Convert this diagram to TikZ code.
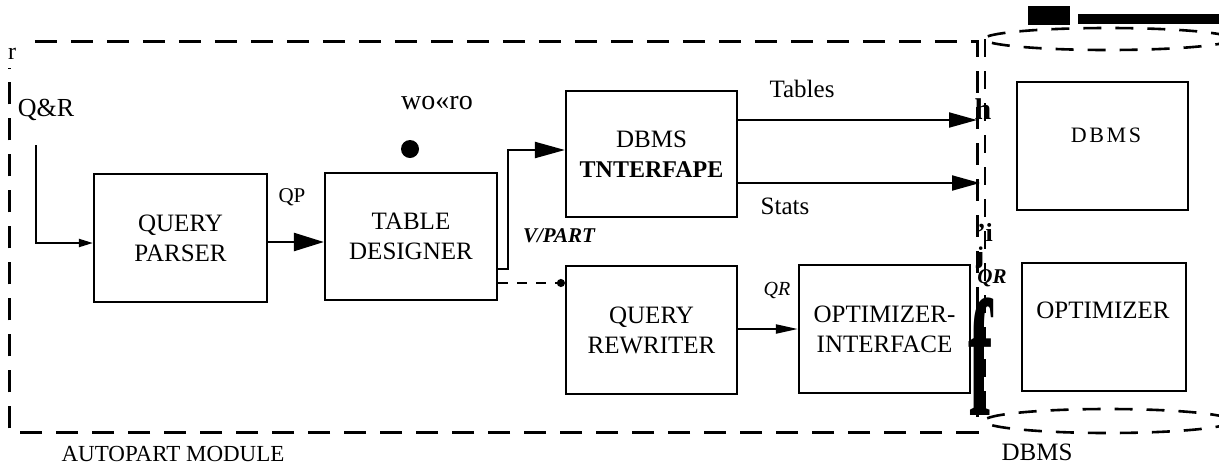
\documentclass[tikz,border=0pt]{standalone}
\usepackage{fontspec}
\setmainfont{Liberation Serif}
\newfontfamily\spacedserif[LetterSpace=12]{Liberation Serif}
\usetikzlibrary{arrows.meta}

\begin{document}
\begin{tikzpicture}[x=1pt,y=-1pt,
  box/.style={draw,line width=2.2pt,minimum width=171pt,minimum height=128pt,
              inner sep=0pt,align=center,font=\fontsize{25}{30}\selectfont},
  lbl/.style={inner sep=0pt,font=\fontsize{24}{28}\selectfont},
  small/.style={inner sep=0pt,font=\fontsize{21}{24}\selectfont},
  modulebox/.style={line width=3pt,dash pattern=on 22pt off 14pt},
  dbmsline/.style={line width=2.6pt,dash pattern=on 18pt off 14pt},
  flow/.style={line width=2pt,-{Triangle[length=28pt,width=15pt]}},
  bigflow/.style={line width=2.4pt,-{Triangle[length=30pt,width=18pt]}},
  smallflow/.style={line width=2pt,-{Triangle[length=22pt,width=9pt]}},
  thinflow/.style={line width=2pt,-{Triangle[length=14pt,width=8pt]}},
  partline/.style={line width=1.8pt,dash pattern=on 10pt off 9pt,
                   -{Circle[length=8pt]}},
]
\useasboundingbox (0,0) rectangle (1219,467);

% AUTOPART module frame (the top-left corner is left open)
\node[minimum width=967pt,minimum height=390pt,inner sep=0pt]
  (autopart) at (493.5,237) {};
\draw[modulebox] ([xshift=25pt]autopart.north west) -- (autopart.north east)
  -- (autopart.south east) -- (autopart.south west)
  -- ([yshift=-26pt]autopart.north west);
\node[lbl,font=\fontsize{23}{26}\selectfont] (autopartT) at (173,454) {AUTOPART MODULE};

% DBMS container drawn as a dashed cylinder, running off the right edge
\begin{scope}
  \clip (0,0) rectangle (1219,467);
  \draw[dbmsline] (1108,39) ellipse [x radius=124, y radius=11];
  \draw[dbmsline] (1108,421) ellipse [x radius=124, y radius=12];
  \draw[dbmsline] (985,39) -- (985,421);
\end{scope}
\node[lbl,font=\fontsize{25}{28}\selectfont] (dbmsT) at (1037,452) {DBMS};

% dark bars along the top edge
\fill (1028,6) rectangle (1070,25);
\fill (1078,14) rectangle (1219,24);

% processing blocks
\node[box,minimum width=173pt] (qp)  at (180.5,238)  {QUERY\\PARSER};
\node[box,minimum width=172pt,minimum height=127pt] (td) at (411,236.5) {TABLE\\DESIGNER};
\node[box,minimum height=126pt] (dbi) at (651.5,154) {DBMS\\{\bfseries\fontsize{24}{30}\selectfont TNTERFAPE}};
\node[box] (qrw) at (651.5,330) {QUERY\\REWRITER};
\node[box] (oi)  at (884.5,329) {OPTIMIZER-\\INTERFACE};

% DBMS components
\node[box] (dbms) at (1102.5,146) {};
\node[lbl,font=\fontsize{22}{26}\spacedserif] (dbmsL) at (1106,135) {DBMS};
\node[box,minimum width=164pt] (opt) at (1104,327) {};
\node[lbl,font=\fontsize{25}{28}\selectfont] (optL) at (1103,310) {OPTIMIZER};

% labels
\node[lbl] (r) at (12,54) {r};
\node[lbl,font=\fontsize{26}{28}\selectfont] (qr) at (46,110) {Q\&R};
\node[lbl,font=\fontsize{28}{30}\selectfont] (wo) at (437,103) {wo«ro};
\node[circle,fill,inner sep=0pt,minimum size=18pt] (dot) at (410,149) {};
\node[small] (qpL) at (292,197) {QP};
\node[small,font=\fontsize{21}{24}\selectfont\bfseries\itshape] (vpart) at (559,236) {V/PART};
\node[lbl,font=\fontsize{25}{28}\selectfont] (tables) at (802,89) {Tables};
\node[lbl,font=\fontsize{25}{28}\selectfont] (stats) at (785,206) {Stats};
\node[small,font=\fontsize{20}{24}\selectfont\itshape] (qrL) at (777,290) {QR};
\node[lbl,font=\fontsize{30}{32}\selectfont\bfseries] (h) at (983,109) {h};
\node[lbl,font=\fontsize{26}{28}\selectfont\bfseries] (i) at (985,232) {'i};
\node[lbl,font=\fontsize{24}{26}\selectfont\bfseries] (j) at (980,258) {j};
\node[small,font=\fontsize{21}{24}\selectfont\bfseries\itshape] (qrB) at (992,278) {QR};
\node[inner sep=0pt,anchor=base] (f) at (981,415)
  {\scalebox{0.44}[1]{\fontsize{167}{167}\selectfont\bfseries f}};

% connectors
\coordinate (qrin) at (36,145);
\draw[thinflow] (qrin) |- ([yshift=-5pt]qp.west);
\draw[bigflow] ([yshift=-4pt]qp.east) -- ([yshift=-4pt]qp.east -| td.west);

\coordinate (split) at (508,269);
\coordinate (vp) at (508,283);
\draw[flow,line width=2.2pt,-{Triangle[length=30pt,width=16pt]}]
  (td.east |- split) -- (split) |- ([yshift=4pt]dbi.west);
\draw[partline] (td.east |- vp) -- (qrw.west |- vp);

\coordinate (tabEnd) at (977,120);
\coordinate (statEnd) at (980,183);
\draw[flow] (dbi.east |- tabEnd) -- (tabEnd);
\draw[flow] (dbi.east |- statEnd) -- (statEnd);

\draw[smallflow] ([yshift=1pt]qrw.east) -- ([yshift=1pt]qrw.east -| oi.west);
\end{tikzpicture}
\end{document}
